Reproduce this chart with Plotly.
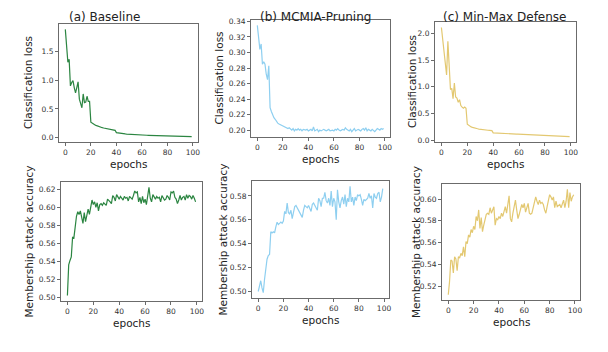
import plotly.graph_objects as go

# the page body adds an 8px offset, so the figure is sized to what remains visible
OFF = 8
W, H = 608 - OFF, 352 - OFF

epochs = list(range(100))

baseline_loss = [
    1.88, 1.55, 1.31, 1.36, 0.90, 0.96, 0.99, 0.87, 0.78, 0.87,
    0.97, 0.67, 0.61, 0.52, 0.76, 0.61, 0.62, 0.72, 0.63, 0.63,
    0.27, 0.25, 0.235, 0.225, 0.215, 0.205, 0.195, 0.19, 0.18, 0.175,
    0.17, 0.165, 0.16, 0.155, 0.15, 0.145, 0.14, 0.138, 0.135, 0.13,
    0.09, 0.085, 0.08, 0.077, 0.074, 0.071, 0.069, 0.067, 0.065, 0.063,
    0.061, 0.059, 0.058, 0.056, 0.055, 0.053, 0.052, 0.051, 0.050, 0.049,
    0.048, 0.047, 0.046, 0.045, 0.044, 0.043, 0.042, 0.041, 0.040, 0.039,
    0.038, 0.037, 0.036, 0.035, 0.034, 0.033, 0.033, 0.032, 0.031, 0.030,
    0.030, 0.029, 0.028, 0.028, 0.027, 0.026, 0.026, 0.025, 0.025, 0.024,
    0.024, 0.023, 0.023, 0.022, 0.022, 0.021, 0.021, 0.020, 0.020, 0.020,
]

mcmia_loss = [
    0.335, 0.323, 0.304, 0.311, 0.285, 0.288, 0.285, 0.272, 0.265, 0.283,
    0.229, 0.224, 0.219, 0.216, 0.214, 0.211, 0.209, 0.208, 0.207, 0.206,
    0.205, 0.204, 0.204, 0.203, 0.202, 0.203, 0.201, 0.200, 0.202, 0.199,
    0.201, 0.200, 0.202, 0.200, 0.201, 0.199, 0.201, 0.200, 0.200, 0.201,
    0.199, 0.200, 0.201, 0.199, 0.204, 0.199, 0.200, 0.201, 0.198, 0.200,
    0.199, 0.200, 0.201, 0.200, 0.199, 0.200, 0.201, 0.199, 0.200, 0.200,
    0.199, 0.201, 0.200, 0.202, 0.200, 0.199, 0.200, 0.201, 0.200, 0.203,
    0.201, 0.200, 0.199, 0.201, 0.198, 0.200, 0.202, 0.199, 0.200, 0.201,
    0.200, 0.199, 0.201, 0.202, 0.200, 0.203, 0.199, 0.201, 0.200, 0.199,
    0.201, 0.200, 0.198, 0.200, 0.202, 0.201, 0.200, 0.202, 0.201, 0.202,
]

minmax_loss = [
    2.11, 1.86, 1.61, 1.41, 1.22, 1.85, 1.35, 0.95, 0.97, 0.78,
    1.07, 0.81, 0.79, 0.71, 0.76, 0.65, 0.62, 0.60, 0.62, 0.60,
    0.30, 0.28, 0.26, 0.25, 0.24, 0.23, 0.225, 0.22, 0.215, 0.21,
    0.205, 0.20, 0.198, 0.195, 0.192, 0.19, 0.188, 0.186, 0.19, 0.18,
    0.14, 0.138, 0.136, 0.134, 0.132, 0.13, 0.128, 0.127, 0.126, 0.125,
    0.124, 0.123, 0.122, 0.121, 0.12, 0.119, 0.118, 0.117, 0.116, 0.115,
    0.114, 0.112, 0.110, 0.108, 0.107, 0.106, 0.104, 0.102, 0.100, 0.099,
    0.098, 0.097, 0.096, 0.095, 0.094, 0.093, 0.092, 0.091, 0.090, 0.089,
    0.088, 0.087, 0.086, 0.085, 0.084, 0.083, 0.082, 0.081, 0.080, 0.079,
    0.078, 0.077, 0.076, 0.076, 0.075, 0.074, 0.073, 0.072, 0.071, 0.070,
]

baseline_acc = [
    0.502, 0.536, 0.541, 0.545, 0.567, 0.566, 0.578, 0.590, 0.595, 0.592,
    0.596, 0.588, 0.582, 0.594, 0.584, 0.591, 0.598, 0.592, 0.601, 0.608,
    0.603, 0.606, 0.600, 0.605, 0.596, 0.603, 0.604, 0.602, 0.605, 0.603,
    0.602, 0.609, 0.608, 0.606, 0.604, 0.613, 0.611, 0.607, 0.614, 0.611,
    0.609, 0.612, 0.610, 0.608, 0.612, 0.610, 0.611, 0.607, 0.612, 0.610,
    0.609, 0.613, 0.618, 0.616, 0.617, 0.606, 0.611, 0.604, 0.612, 0.605,
    0.609, 0.603, 0.613, 0.622, 0.610, 0.606, 0.614, 0.611, 0.609, 0.612,
    0.610, 0.611, 0.606, 0.613, 0.611, 0.608, 0.609, 0.613, 0.611, 0.608,
    0.617, 0.616, 0.618, 0.611, 0.609, 0.604, 0.608, 0.613, 0.608, 0.611,
    0.612, 0.608, 0.614, 0.610, 0.613, 0.612, 0.609, 0.613, 0.610, 0.606,
]

mcmia_acc = [
    0.500, 0.505, 0.509, 0.503, 0.499, 0.510, 0.520, 0.527, 0.530, 0.531,
    0.550, 0.549, 0.550, 0.549, 0.554, 0.558, 0.556, 0.557, 0.558, 0.557,
    0.559, 0.567, 0.565, 0.574, 0.566, 0.565, 0.568, 0.561, 0.567, 0.571,
    0.572, 0.570, 0.568, 0.565, 0.564, 0.562, 0.568, 0.572, 0.571, 0.570,
    0.572, 0.570, 0.567, 0.573, 0.574, 0.572, 0.570, 0.568, 0.578, 0.576,
    0.571, 0.578, 0.578, 0.583, 0.576, 0.574, 0.578, 0.572, 0.584, 0.571,
    0.578, 0.575, 0.560, 0.585, 0.575, 0.570, 0.576, 0.579, 0.573, 0.581,
    0.571, 0.578, 0.575, 0.588, 0.575, 0.579, 0.572, 0.579, 0.576, 0.581,
    0.580, 0.581, 0.577, 0.572, 0.577, 0.576, 0.577, 0.578, 0.582, 0.578,
    0.580, 0.570, 0.582, 0.579, 0.578, 0.582, 0.583, 0.575, 0.579, 0.586,
]

minmax_acc = [
    0.512, 0.524, 0.544, 0.543, 0.532, 0.547, 0.545, 0.534, 0.547, 0.546,
    0.550, 0.548, 0.556, 0.547, 0.561, 0.559, 0.567, 0.565, 0.572, 0.569,
    0.575, 0.572, 0.584, 0.580, 0.590, 0.573, 0.583, 0.570, 0.576, 0.580,
    0.586, 0.587, 0.586, 0.592, 0.587, 0.590, 0.593, 0.576, 0.582, 0.581,
    0.584, 0.582, 0.587, 0.584, 0.589, 0.593, 0.587, 0.595, 0.603, 0.582,
    0.579, 0.587, 0.592, 0.599, 0.590, 0.582, 0.586, 0.592, 0.595, 0.592,
    0.596, 0.588, 0.592, 0.596, 0.587, 0.586, 0.587, 0.592, 0.595, 0.602,
    0.598, 0.595, 0.599, 0.596, 0.597, 0.595, 0.590, 0.587, 0.593, 0.599,
    0.604, 0.602, 0.599, 0.602, 0.592, 0.598, 0.593, 0.594, 0.595, 0.592,
    0.596, 0.599, 0.592, 0.598, 0.609, 0.592, 0.606, 0.598, 0.602, 0.604,
]

titles = ["(a) Baseline", "(b) MCMIA-Pruning", "(c) Min-Max Defense"]
colors = ["#2b8541", "#8ecff0", "#e3c871"]

# panel boxes in screen pixels: (left, right, top, bottom)
boxes = [
    (59, 198, 24, 142), (251, 390, 20, 137), (435, 576, 22, 142),
    (61, 202, 182, 301), (252, 389, 181, 298), (442, 580, 184, 300),
]
series = [baseline_loss, mcmia_loss, minmax_loss, baseline_acc, mcmia_acc, minmax_acc]
ytick_sets = [
    [0.0, 0.5, 1.0, 1.5],
    [0.20, 0.22, 0.24, 0.26, 0.28, 0.30, 0.32, 0.34],
    [0.0, 0.5, 1.0, 1.5, 2.0],
    [0.50, 0.52, 0.54, 0.56, 0.58, 0.60, 0.62],
    [0.50, 0.52, 0.54, 0.56, 0.58],
    [0.52, 0.54, 0.56, 0.58, 0.60],
]
ytick_fmt = [".1f", ".2f", ".1f", ".2f", ".2f", ".2f"]
ylabel_x = [28, 218, 412, 28, 222, 416]


def px(x):
    return (x - OFF) / W


def py(y):
    return 1 - (y - OFF) / H


FONT = "DejaVu Sans"
fig = go.Figure()
annotations = []

for i, (ys, box) in enumerate(zip(series, boxes)):
    n = i + 1
    l, r, t, b = box
    lo, hi = min(ys), max(ys)
    pad = (hi - lo) * 0.05
    xa = dict(
        domain=[px(l), px(r)], range=[-4.95, 103.95], anchor=f"y{n}",
        tickvals=[0, 20, 40, 60, 80, 100], showgrid=False, zeroline=False,
        showline=True, mirror=True, linecolor="#6b6b6b", linewidth=1,
        ticks="outside", ticklen=3, tickcolor="#6b6b6b", automargin=False,
        tickfont=dict(family=FONT, size=7.5, color="#333333"),
    )
    ya = dict(
        domain=[py(b), py(t)], range=[lo - pad, hi + pad], anchor=f"x{n}",
        tickvals=ytick_sets[i], tickformat=ytick_fmt[i], showgrid=False,
        zeroline=False, showline=True, mirror=True, linecolor="#6b6b6b",
        linewidth=1, ticks="outside", ticklen=3, tickcolor="#6b6b6b",
        automargin=False,
        tickfont=dict(family=FONT, size=7.5, color="#333333"),
    )
    sfx = "" if n == 1 else str(n)
    fig.update_layout(**{f"xaxis{sfx}": xa, f"yaxis{sfx}": ya})
    fig.add_trace(go.Scatter(
        x=epochs, y=ys, mode="lines", xaxis=f"x{sfx}", yaxis=f"y{sfx}",
        line=dict(color=colors[i % 3], width=1.2), showlegend=False,
    ))

    # axis labels
    annotations.append(dict(
        text="epochs", xref="paper", yref="paper", x=px((l + r) / 2),
        y=py(b + 22), showarrow=False, xanchor="center", yanchor="middle",
        font=dict(family=FONT, size=10.5, color="#222222"),
    ))
    annotations.append(dict(
        text="Classification loss" if i < 3 else "Membership attack accuracy",
        xref="paper", yref="paper", x=px(ylabel_x[i]), y=py((t + b) / 2),
        textangle=-90, showarrow=False, xanchor="center", yanchor="middle",
        font=dict(family=FONT, size=10.5, color="#222222"),
    ))

for i, title in enumerate(titles):
    annotations.append(dict(
        text=title, xref="paper", yref="paper", x=px([104, 315, 505][i]),
        y=py(8), showarrow=False, xanchor="center", yanchor="top",
        font=dict(family=FONT, size=12, color="#222222"),
    ))

fig.update_layout(
    width=W, height=H, margin=dict(l=0, r=0, t=0, b=0),
    paper_bgcolor="white", plot_bgcolor="white",
    annotations=annotations,
)

fig.write_html("out.html")
